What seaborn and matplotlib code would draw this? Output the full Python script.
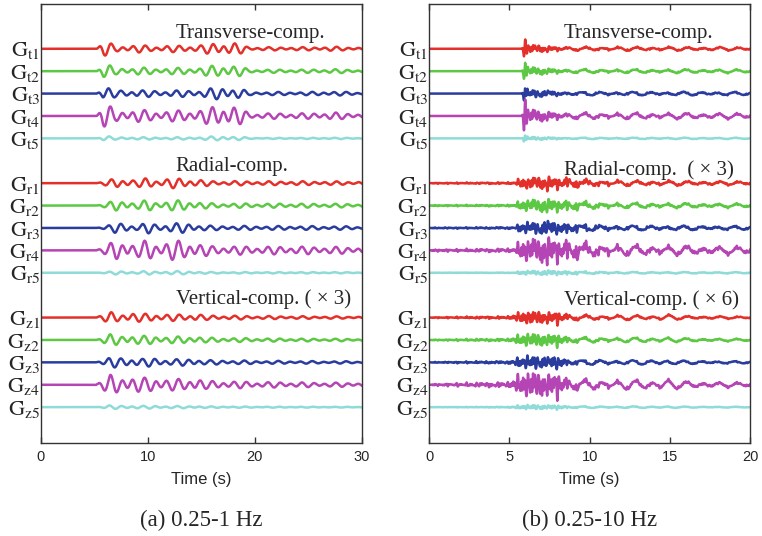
import numpy as np
import pandas as pd
import matplotlib
matplotlib.use("Agg")
import matplotlib.pyplot as plt
import seaborn as sns

sns.set_theme(style="white")
plt.rcParams["font.family"] = ["Liberation Serif", "DejaVu Serif"]
plt.rcParams["mathtext.fontset"] = "stix"

# trace colours, one per station
colors = ["#e4302a", "#5cc843", "#2a3d9e", "#b544b4", "#8edbd8"]
stations = ["1", "2", "3", "4", "5"]
components = ["t", "r", "z"]
headings_a = ["Transverse-comp.", "Radial-comp.", "Vertical-comp. ( \u00d7 3)"]
headings_b = ["Transverse-comp.", "Radial-comp.  ( \u00d7 3)", "Vertical-comp. ( \u00d7 6)"]

# ---- (a) 0.25-1 Hz: envelope knots (time s, amplitude in px) per component ----
a_t_knots = [0, 5.2, 5.8, 6.3, 7.0, 8.0, 9.0, 10.0, 11.0, 12.0, 13.0, 14.0, 15.0,
             16.0, 17.0, 18.0, 18.8, 19.5, 22, 25, 27, 30]
a_t_env = [0, 0, 7, 6, 3, 3, 3.5, 3, 2.5, 3, 3, 3, 3.5, 5, 6, 5.5, 4, 1.5, 1.5, 1.5, 2, 1.2]
a_t_gain = [1.0, 1.0, 1.0, 1.7, 0.35]

a_r_knots = [0, 5.0, 6.0, 7.0, 8.0, 9.0, 10.0, 11.0, 12.0, 13.0, 14.0, 15.0, 16, 18, 20, 24, 30]
a_r_env = [0, 0, 2, 4.5, 4, 3, 5, 3, 4.5, 4.5, 4, 3, 2, 2, 1.8, 1.8, 1.5]
a_r_gain = [1.0, 1.05, 1.0, 2.0, 0.35]

a_z_knots = [0, 5.0, 5.8, 6.5, 7.5, 8.5, 9.5, 10.5, 11.5, 12.5, 13.5, 14.5, 15.5, 17, 20, 25, 30]
a_z_env = [0, 0, 3, 5, 4, 4.5, 3.5, 4, 3, 3, 3, 3.5, 2, 2, 1.5, 1.2, 1.0]
a_z_gain = [1.0, 1.05, 1.0, 1.8, 0.35]

# ---- (b) 0.25-10 Hz: high- and low-frequency envelopes, plus S-pulse on transverse ----
b_t_pulse_time = 5.95
b_t_pulse = [10, 10, 9, 19, 4]
b_t_hf_knots = [0, 5.9, 6.0, 6.5, 7.0, 7.8, 8.5, 20]
b_t_hf_env = [0, 0, 4.5, 3.5, 3, 2, 0.8, 0.5]
b_t_lf_knots = [0, 5.9, 6.5, 8, 10, 12, 14, 16, 18, 20]
b_t_lf_env = [0, 0, 1, 1.2, 1.5, 1.5, 1.5, 1.5, 1.5, 1.2]
b_t_gain = [1.0, 1.0, 1.0, 1.6, 0.4]

b_r_hf_knots = [0, 3.5, 5.4, 5.6, 6.2, 7.0, 7.3, 8.0, 9.0, 10, 12, 20]
b_r_hf_env = [0.4, 0.6, 0.8, 4.5, 5, 5.5, 7, 5, 3.5, 2, 1.1, 0.7]
b_r_lf_knots = [0, 5.5, 6.5, 8, 10, 12, 14, 16, 18, 20]
b_r_lf_env = [0, 0.3, 1.5, 2, 2, 2, 2, 1.8, 1.5, 1.5]
b_r_gain = [1.0, 1.0, 1.0, 2.0, 0.35]

b_z_hf_knots = [0, 1.5, 3.5, 5.0, 5.6, 6.2, 6.8, 7.3, 8.0, 8.6, 9.5, 12, 20]
b_z_hf_env = [0.3, 0.6, 0.9, 1.1, 4.5, 6, 6, 5, 6, 2.2, 1.1, 0.7, 0.4]
b_z_lf_knots = [0, 5, 8.5, 10, 12, 14, 14.7, 15.5, 17, 20]
b_z_lf_env = [0, 0.3, 1.5, 2, 2, 1.8, 3, 1.5, 1.2, 0.8]
b_z_gain = [1.0, 1.0, 1.0, 2.0, 0.35]

# per-station phase shifts so the traces are not identical copies
station_phase = [0.0, 0.5, 1.1, 0.3, 0.8]

PX_PER_UNIT = 22.4  # trace spacing in pixels
positions = {"t": [2, 3, 4, 5, 6], "r": [8, 9, 10, 11, 12], "z": [14, 15, 16, 17, 18]}
heading_y_a = [1.52, 7.45, 13.4]
heading_y_b = [1.52, 7.63, 13.44]


def lowband(t, ph):
    return (0.75 * np.sin(2 * np.pi * 0.95 * t + ph)
            + 0.35 * np.sin(2 * np.pi * 0.62 * t + 2.1 * ph + 0.7))


def highband(t, ph):
    return (0.4 * np.sin(2 * np.pi * 3.1 * t + ph)
            + 0.35 * np.sin(2 * np.pi * 4.7 * t + 1.7 * ph + 1.0)
            + 0.3 * np.sin(2 * np.pi * 6.3 * t + 2.3 * ph + 2.0)
            + 0.3 * np.sin(2 * np.pi * 8.2 * t + 0.9 * ph + 0.4)
            + 0.25 * np.sin(2 * np.pi * 9.7 * t + 1.3 * ph + 2.6))


ta = np.arange(0, 30.0001, 0.02)
tb = np.arange(0, 20.0001, 0.004)

rows = []
a_spec = {"t": (a_t_knots, a_t_env, a_t_gain),
          "r": (a_r_knots, a_r_env, a_r_gain),
          "z": (a_z_knots, a_z_env, a_z_gain)}
b_spec = {"t": (b_t_hf_knots, b_t_hf_env, b_t_lf_knots, b_t_lf_env, b_t_gain),
          "r": (b_r_hf_knots, b_r_hf_env, b_r_lf_knots, b_r_lf_env, b_r_gain),
          "z": (b_z_hf_knots, b_z_hf_env, b_z_lf_knots, b_z_lf_env, b_z_gain)}

for c in components:
    kn, ev, gain = a_spec[c]
    env = np.interp(ta, kn, ev)
    for i, s in enumerate(stations):
        ph = station_phase[i]
        w = gain[i] * env * lowband(ta, ph) / PX_PER_UNIT
        y = positions[c][i] - w
        rows.append(pd.DataFrame({"panel": "a", "trace": f"{c}{s}", "time": ta,
                                  "y": y, "station": i}))

    hk, he, lk, le, gain = b_spec[c]
    henv = np.interp(tb, hk, he)
    lenv = np.interp(tb, lk, le)
    for i, s in enumerate(stations):
        ph = station_phase[i]
        w = gain[i] * (henv * highband(tb, ph) + lenv * lowband(tb, ph))
        if c == "t":
            dt = tb - b_t_pulse_time
            w = w + b_t_pulse[i] * np.sin(2 * np.pi * 4.5 * dt) * np.exp(-(dt / 0.09) ** 2)
        y = positions[c][i] - w / PX_PER_UNIT
        rows.append(pd.DataFrame({"panel": "b", "trace": f"{c}{s}", "time": tb,
                                  "y": y, "station": i}))

df = pd.concat(rows, ignore_index=True)

fig = plt.figure(figsize=(7.62, 5.36), dpi=100)
ax_a = fig.add_axes([40.7 / 762, 1 - 443 / 536, 321.3 / 762, 439 / 536])
ax_b = fig.add_axes([429 / 762, 1 - 443 / 536, 321.3 / 762, 439 / 536])

panels = [(ax_a, "a", 30, [0, 10, 20, 30], headings_a, heading_y_a, "(a) 0.25-1 Hz"),
          (ax_b, "b", 20, [0, 5, 10, 15, 20], headings_b, heading_y_b, "(b) 0.25-10 Hz")]

for ax, key, tmax, ticks, heads, hy, sub in panels:
    sub_df = df[df["panel"] == key]
    for c in components:
        for i, s in enumerate(stations):
            d = sub_df[sub_df["trace"] == f"{c}{s}"]
            sns.lineplot(data=d, x="time", y="y", ax=ax, color=colors[i], lw=1.8,
                         estimator=None, sort=False, legend=False)
            ax.annotate(f"$\\mathrm{{G}}_{{\\mathrm{{{c}{s}}}}}$",
                        xy=(0, positions[c][i]), xycoords=("axes fraction", "data"),
                        xytext=(-0.5, -5.5), textcoords="offset points",
                        ha="right", va="baseline", fontsize=16, annotation_clip=False)
    for h, yy in zip(heads, hy):
        ax.text(0.42, yy, h, transform=ax.get_yaxis_transform(), ha="left",
                va="baseline", fontsize=15)
    ax.set_xlim(0, tmax)
    ax.set_ylim(19.6, 0)
    ax.set_yticks([])
    ax.set_xticks(ticks)
    ax.set_xticklabels([str(v) for v in ticks], fontfamily="Liberation Sans", fontsize=10.5)
    ax.tick_params(axis="x", direction="in", top=True, bottom=True, length=4,
                   width=1, pad=5, color="#333333")
    ax.set_xlabel("Time (s)", fontfamily="Liberation Sans", fontsize=12, labelpad=6)
    ax.set_ylabel("")
    for sp in ax.spines.values():
        sp.set_visible(True)
        sp.set_color("#333333")
        sp.set_linewidth(1.0)
    bb = ax.get_position()
    fig.text(bb.x0 + bb.width / 2, 1 - 520 / 536, sub, ha="center", va="center",
             fontsize=16.5)

fig.savefig("out.png", dpi=100)
